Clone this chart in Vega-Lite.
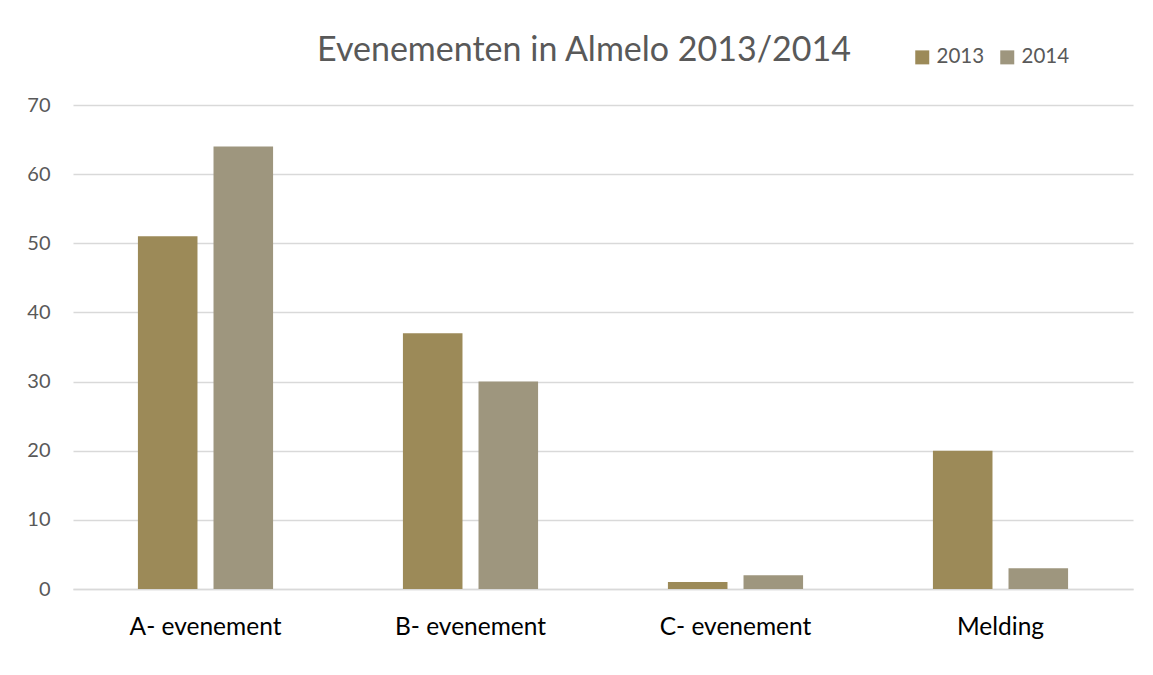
{
  "$schema": "https://vega.github.io/schema/vega-lite/v6.json",
  "autosize": {"type": "none"},
  "width": 1060,
  "height": 484,
  "padding": {"left": 73, "top": 105, "right": 20, "bottom": 86},
  "background": "white",
  "title": {
    "text": "Evenementen in Almelo 2013/2014",
    "font": "Lato",
    "fontSize": 34,
    "fontWeight": "normal",
    "color": "#595959",
    "anchor": "middle",
    "dx": -19,
    "offset": -21
  },
  "data": {
    "values": [
      {"categorie": "A- evenement", "jaar": "2013", "aantal": 51},
      {"categorie": "A- evenement", "jaar": "2014", "aantal": 64},
      {"categorie": "B- evenement", "jaar": "2013", "aantal": 37},
      {"categorie": "B- evenement", "jaar": "2014", "aantal": 30},
      {"categorie": "C- evenement", "jaar": "2013", "aantal": 1},
      {"categorie": "C- evenement", "jaar": "2014", "aantal": 2},
      {"categorie": "Melding", "jaar": "2013", "aantal": 20},
      {"categorie": "Melding", "jaar": "2014", "aantal": 3}
    ]
  },
  "mark": {"type": "bar"},
  "encoding": {
    "x": {
      "field": "categorie",
      "type": "nominal",
      "sort": null,
      "scale": {"paddingInner": 0.49, "paddingOuter": 0.245},
      "axis": {
        "title": null,
        "labelAngle": 0,
        "labelFont": "Lato",
        "labelFontSize": 24.5,
        "labelColor": "#000000",
        "labelPadding": 26,
        "ticks": false,
        "domainColor": "#d9d9d9",
        "domainWidth": 1.3
      }
    },
    "xOffset": {
      "field": "jaar",
      "type": "nominal",
      "scale": {"paddingInner": 0.212, "paddingOuter": 0}
    },
    "y": {
      "field": "aantal",
      "type": "quantitative",
      "scale": {"domain": [0, 70]},
      "axis": {
        "title": null,
        "values": [0, 10, 20, 30, 40, 50, 60, 70],
        "labelFont": "Lato",
        "labelFontSize": 20,
        "labelColor": "#595959",
        "labelPadding": 23,
        "ticks": false,
        "domain": false,
        "gridColor": "#d9d9d9",
        "gridWidth": 1.3
      }
    },
    "color": {
      "field": "jaar",
      "type": "nominal",
      "scale": {"domain": ["2013", "2014"], "range": ["#9c8a58", "#9e967e"]},
      "legend": {
        "title": null,
        "orient": "none",
        "direction": "horizontal",
        "legendX": 839,
        "legendY": -58,
        "symbolType": "square",
        "symbolSize": 196,
        "symbolStrokeWidth": 0,
        "labelFont": "Lato",
        "labelFontSize": 20.5,
        "labelColor": "#595959",
        "columnPadding": 12,
        "labelOffset": 4
      }
    }
  },
  "config": {
    "view": {"stroke": null}
  }
}
